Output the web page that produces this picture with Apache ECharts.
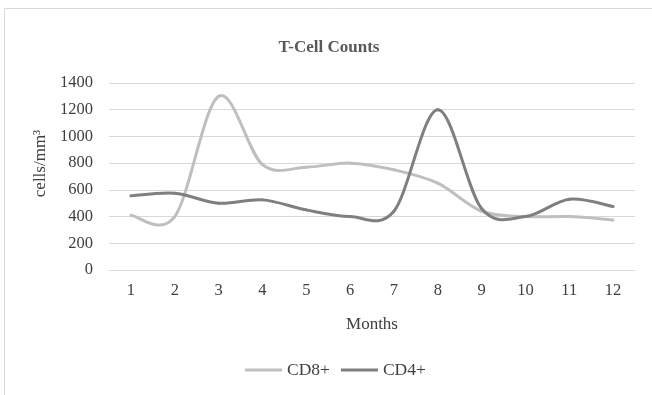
<!DOCTYPE html>
<html>
<head>
<meta charset="utf-8">
<script src="https://cdn.jsdelivr.net/npm/echarts@6/dist/echarts.min.js"></script>
<style>html,body{margin:0;padding:0;background:#fff;}#c{width:652px;height:395px;}</style>
</head>
<body>
<div id="c"></div>
<script>
const months = ['1','2','3','4','5','6','7','8','9','10','11','12'];
const cd8 = [410, 400, 1300, 790, 770, 800, 750, 650, 440, 400, 400, 375];
const cd4 = [555, 575, 500, 525, 450, 400, 440, 1200, 460, 400, 530, 475];
const yTicks = [0, 200, 400, 600, 800, 1000, 1200, 1400];

const font = 'Liberation Serif';

// Smooth line (Catmull-Rom style bezier, like office charts), positioned through the axes
function smoothSeries(name, arr, color) {
  return {
    name: name, type: 'custom',
    data: arr.map((v, i) => [i, v]),
    encode: {x: 0, y: 1},
    itemStyle: {color: color},
    renderItem: function (params, api) {
      const i = params.dataIndex, n = arr.length;
      if (i >= n - 1) return null;
      const P = k => { const j = Math.min(Math.max(k, 0), n - 1); return api.coord([j, arr[j]]); };
      const p0 = P(i - 1), p1 = P(i), p2 = P(i + 1), p3 = P(i + 2);
      const f = 1 / 6;
      return {
        type: 'bezierCurve',
        shape: {
          x1: p1[0], y1: p1[1], x2: p2[0], y2: p2[1],
          cpx1: p1[0] + (p2[0] - p0[0]) * f, cpy1: p1[1] + (p2[1] - p0[1]) * f,
          cpx2: p2[0] - (p3[0] - p1[0]) * f, cpy2: p2[1] - (p3[1] - p1[1]) * f
        },
        style: {stroke: color, lineWidth: 3, fill: null, lineCap: 'round'}
      };
    }
  };
}

const chart = echarts.init(document.getElementById('c'), null, {renderer: 'canvas'});
chart.setOption({
  backgroundColor: '#fff',
  animation: false,
  graphic: [{
    type: 'rect', shape: {x: 4.5, y: 8.5, width: 700, height: 400},
    style: {fill: 'none', stroke: '#d9d9d9', lineWidth: 1}, silent: true, z: -1
  }],
  title: {
    text: 'T-Cell Counts', left: 324, top: 34, textAlign: 'center',
    textStyle: {fontFamily: font, fontSize: 17, fontWeight: 'bold', color: '#595959'}
  },
  legend: {
    data: ['CD8+', 'CD4+'], left: 240, top: 356, itemWidth: 37, itemHeight: 3, itemGap: 11,
    icon: 'rect',
    textStyle: {fontFamily: font, fontSize: 17.5, color: '#404040'}
  },
  grid: {left: 109, right: 17, top: 83, bottom: 125},
  xAxis: {
    type: 'category', data: months, boundaryGap: true,
    name: 'Months', nameLocation: 'middle', nameGap: 46,
    nameTextStyle: {fontFamily: font, fontSize: 17, color: '#404040'},
    axisLine: {show: true, lineStyle: {color: '#d9d9d9', width: 1}},
    axisTick: {show: false},
    axisLabel: {fontFamily: font, fontSize: 16.5, color: '#404040', margin: 12}
  },
  yAxis: {
    type: 'value', min: yTicks[0], max: yTicks[yTicks.length-1], interval: 200,
    name: 'cells/mm³', nameLocation: 'middle', nameGap: 58,
    nameTextStyle: {fontFamily: font, fontSize: 17, color: '#404040', padding: [0, 0, 0, 26]},
    axisLine: {show: false}, axisTick: {show: false},
    splitLine: {lineStyle: {color: '#d9d9d9', width: 1}},
    axisLabel: {fontFamily: font, fontSize: 16.5, color: '#404040', margin: 16,
                formatter: v => String(v)}
  },
  series: [
    smoothSeries('CD8+', cd8, '#bfbfbf'),
    smoothSeries('CD4+', cd4, '#7f7f7f')
  ]
});
</script>
</body>
</html>
